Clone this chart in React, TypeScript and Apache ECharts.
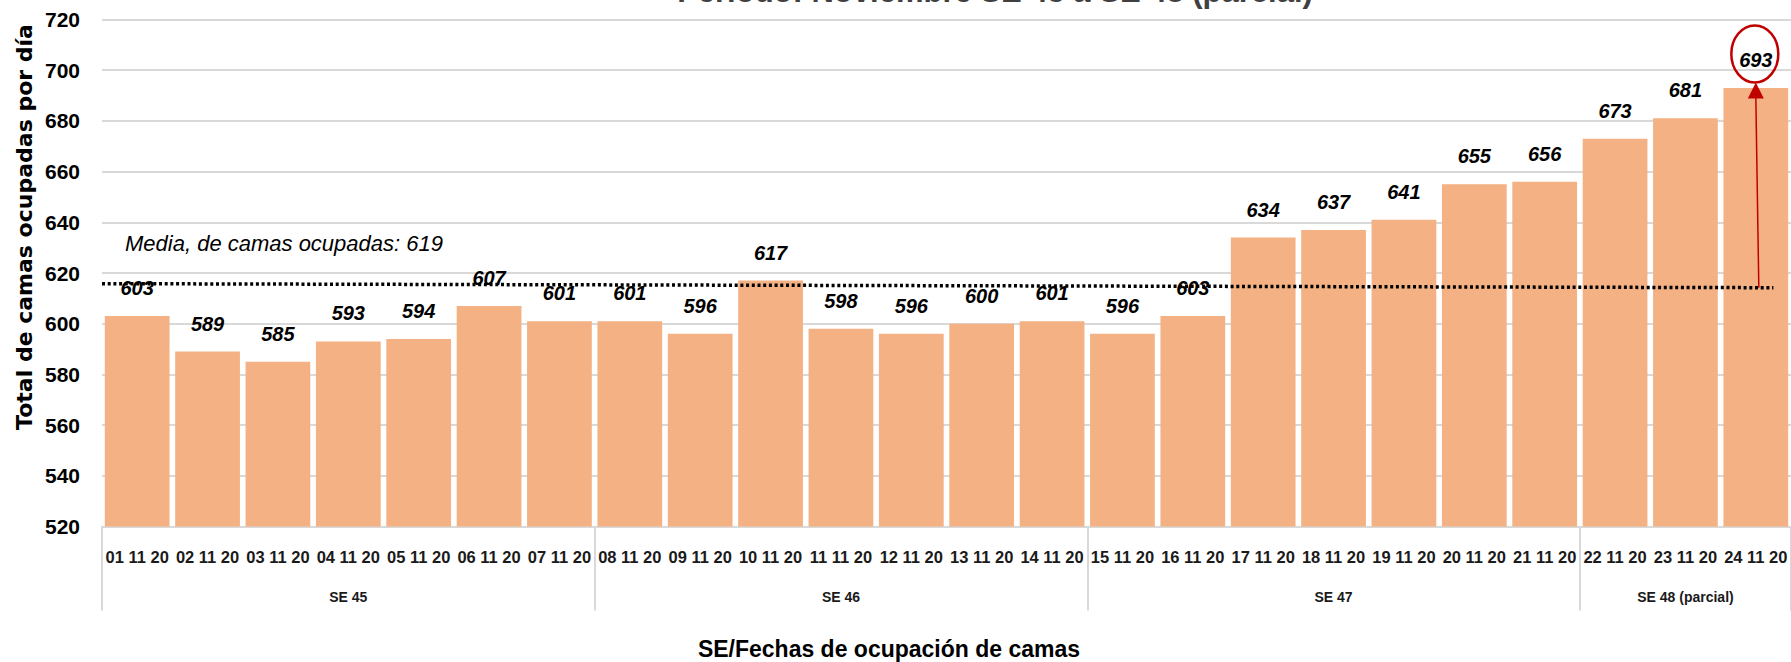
import { useEffect, useRef } from "react";
import * as echarts from "echarts";

// ---- Data ----
const dates = [
  "01 11 20", "02 11 20", "03 11 20", "04 11 20", "05 11 20", "06 11 20", "07 11 20",
  "08 11 20", "09 11 20", "10 11 20", "11 11 20", "12 11 20", "13 11 20", "14 11 20",
  "15 11 20", "16 11 20", "17 11 20", "18 11 20", "19 11 20", "20 11 20", "21 11 20",
  "22 11 20", "23 11 20", "24 11 20",
];
const occupiedBeds = [
  603, 589, 585, 593, 594, 607, 601,
  601, 596, 617, 598, 596, 600, 601,
  596, 603, 634, 637, 641, 655, 656,
  673, 681, 693,
];
const weekLabels = ["SE 45", "SE 46", "SE 47", "SE 48 (parcial)"];
const daysPerWeek = [7, 7, 7, 3];
const yMin = 520;
const yMax = 720;
const yStep = 20;
const meanLabel = "Media, de camas ocupadas: 619";
// drawn mean line (slightly sloped in the original), in [category position, value]
const meanLinePoints = [
  [0, 615.8],
  [23.75, 614.2],
];
const titleText = "Periodo: Noviembre SE 45 a SE 48 (parcial)";
const yAxisTitle = "Total de camas ocupadas por día";
const xAxisTitle = "SE/Fechas de ocupación de camas";

// ---- Derived helpers ----
const weekStarts: number[] = [];
const groupAxisData: string[] = dates.map(() => "");
{
  let start = 0;
  daysPerWeek.forEach((n, i) => {
    weekStarts.push(start);
    groupAxisData[start + Math.floor((n - 1) / 2)] = weekLabels[i];
    start += n;
  });
}
const boundarySet = new Set(weekStarts);

const FONT = '"Liberation Sans", Arial, sans-serif';
const GRID = "#d9d9d9";
const RED = "#c00000";

export default function App() {
  const ref = useRef<HTMLDivElement>(null);

  useEffect(() => {
    if (!ref.current) return;
    const chart = echarts.init(ref.current, null, { renderer: "svg" });
    const option: any = {
      animation: false,
      backgroundColor: "#ffffff",
      grid: { left: 102, top: 19.5, width: 1694, height: 507, containLabel: false },
      xAxis: [
        {
          type: "category",
          data: dates,
          position: "bottom",
          boundaryGap: true,
          axisLine: { show: true, lineStyle: { color: GRID, width: 2 } },
          axisTick: {
            show: true,
            interval: (i: number) => boundarySet.has(i),
            length: 84,
            lineStyle: { color: GRID, width: 2 },
          },
          axisLabel: {
            interval: 0,
            margin: 22,
            fontSize: 16.5,
            fontWeight: "bold",
            fontFamily: FONT,
            color: "#1a1a1a",
          },
          splitLine: { show: false },
        },
        {
          type: "category",
          data: groupAxisData,
          position: "bottom",
          boundaryGap: true,
          axisLine: { show: false },
          axisTick: { show: false },
          axisLabel: {
            interval: 0,
            margin: 63,
            fontSize: 14,
            fontWeight: "bold",
            fontFamily: FONT,
            color: "#1a1a1a",
          },
          splitLine: { show: false },
        },
        {
          type: "value",
          min: 0,
          max: dates.length,
          show: false,
          position: "top",
        },
      ],
      yAxis: {
        type: "value",
        min: yMin,
        max: yMax,
        interval: yStep,
        axisLine: { show: false },
        axisTick: { show: false },
        splitLine: { show: true, lineStyle: { color: GRID, width: 2 } },
        axisLabel: {
          margin: 22,
          fontSize: 21,
          fontWeight: "bold",
          fontFamily: FONT,
          color: "#000",
        },
      },
      series: [
        {
          type: "bar",
          data: occupiedBeds,
          xAxisIndex: 0,
          barCategoryGap: "8%",
          itemStyle: { color: "#F4B183" },
          label: {
            show: true,
            position: "top",
            distance: 18,
            fontSize: 20,
            fontWeight: "bold",
            fontStyle: "italic",
            fontFamily: FONT,
            color: "#000",
          },
        },
        {
          type: "line",
          xAxisIndex: 2,
          data: meanLinePoints,
          symbol: "none",
          silent: true,
          lineStyle: { color: "#000", width: 3.5, type: [3, 2.7], cap: "butt" },
          z: 5,
        },
      ],
    };
    chart.setOption(option);

    const last = occupiedBeds.length - 1;
    const [cx, topY] = chart.convertToPixel({ seriesIndex: 0 }, [last, occupiedBeds[last]]) as number[];
    const meanEnd = chart.convertToPixel({ seriesIndex: 1 }, meanLinePoints[1]) as number[];
    const meanStart = chart.convertToPixel({ seriesIndex: 1 }, meanLinePoints[0]) as number[];
    const meanYAtCx = meanStart[1] + ((meanEnd[1] - meanStart[1]) * (cx - meanStart[0])) / (meanEnd[0] - meanStart[0]);
    const ellCy = topY - 34;
    const tipY = ellCy + 28.5;

    chart.setOption({
      graphic: [
        {
          type: "text",
          x: 995,
          y: -8.5,
          z: 100,
          style: {
            text: titleText,
            fontSize: 31,
            fontWeight: "bold",
            fontFamily: FONT,
            fill: "#404040",
            align: "center",
            verticalAlign: "middle",
          },
        },
        {
          type: "text",
          x: 24,
          y: 227,
          rotation: Math.PI / 2,
          z: 100,
          style: {
            text: yAxisTitle,
            fontSize: 22,
            fontWeight: "bold",
            fontFamily: '"DejaVu Sans", Verdana, sans-serif',
            fill: "#000",
            align: "center",
            verticalAlign: "middle",
          },
        },
        {
          type: "text",
          x: 889,
          y: 649,
          z: 100,
          style: {
            text: xAxisTitle,
            fontSize: 23,
            fontWeight: "bold",
            fontFamily: FONT,
            fill: "#000",
            align: "center",
            verticalAlign: "middle",
          },
        },
        {
          type: "text",
          x: 125,
          y: 243,
          z: 100,
          style: {
            text: meanLabel,
            fontSize: 22,
            fontStyle: "italic",
            fontFamily: FONT,
            fill: "#000",
            align: "left",
            verticalAlign: "middle",
          },
        },
        {
          type: "ellipse",
          z: 100,
          shape: { cx: cx - 1, cy: ellCy, rx: 23.5, ry: 28.5 },
          style: { fill: "none", stroke: RED, lineWidth: 2.5 },
        },
        {
          type: "line",
          z: 100,
          shape: { x1: cx + 3, y1: meanYAtCx, x2: cx, y2: tipY + 14 },
          style: { stroke: RED, lineWidth: 1.5 },
        },
        {
          type: "polygon",
          z: 100,
          shape: {
            points: [
              [cx, tipY],
              [cx - 8, tipY + 16],
              [cx + 8, tipY + 16],
            ],
          },
          style: { fill: RED },
        },
      ],
    });

    return () => chart.dispose();
  }, []);

  return (
    <div
      ref={ref}
      style={{ position: "fixed", left: 0, top: 0, width: 1791, height: 662 }}
    />
  );
}
